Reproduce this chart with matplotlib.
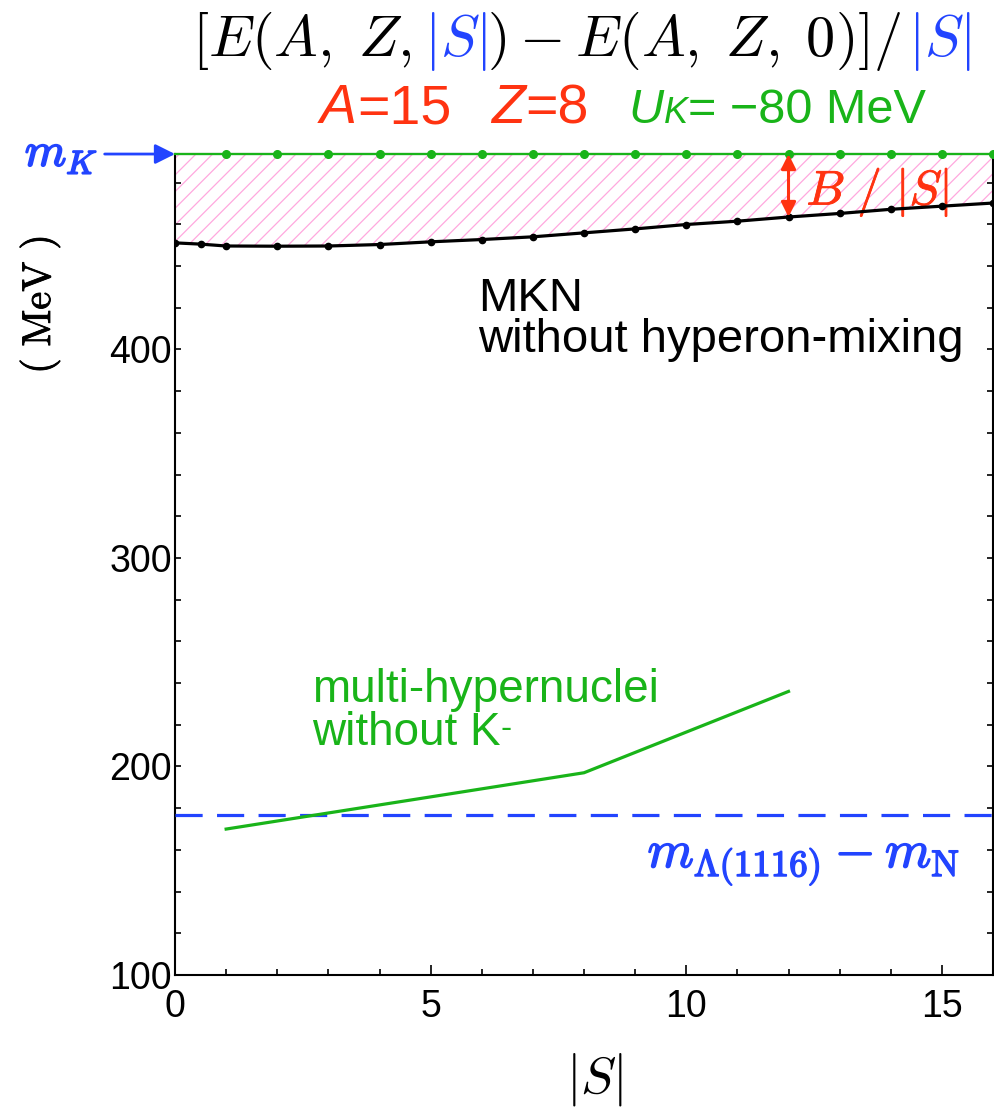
import matplotlib
matplotlib.use("Agg")
import matplotlib.pyplot as plt
import matplotlib.patheffects as pe
from matplotlib import transforms
from matplotlib.ticker import MultipleLocator

plt.rcParams["mathtext.fontset"] = "cm"
plt.rcParams["font.family"] = ["Liberation Sans", "DejaVu Sans"]
plt.rcParams["hatch.linewidth"] = 0.9

# MKN result without hyperon mixing: [E(A,Z,|S|) - E(A,Z,0)]/|S| in MeV
S_mkn = [0, 0.5, 1, 2, 3, 4, 5, 6, 7, 8, 9, 10, 11, 12, 13, 14, 15, 16]
E_mkn = [451.1, 450.5, 449.6, 449.5, 449.6, 450.3, 451.6, 452.7, 454.0,
         455.9, 457.8, 459.9, 461.5, 463.5, 465.2, 467.2, 468.7, 470.2]

# multi-hypernuclei without K-
S_hyp = [1, 8, 12]
E_hyp = [170, 197, 236]

# reference levels
m_K = 493.7
S_mK = [1, 2, 3, 4, 5, 6, 7, 8, 9, 10, 11, 12, 13, 14, 15, 16]
mLam_minus_mN = 176.8
S_arrow = 12
E_arrow = 463.5

RED = "#ff3311"
GREEN = "#19b419"
BLUE = "#2244ff"
PINK = "#ffa8de"


def bold(color, w=1.1):
    # thicken thin math glyphs a little
    return [pe.withStroke(linewidth=w, foreground=color)]


fig = plt.figure(figsize=(9.95, 11.17), dpi=100)
ax = fig.add_axes([0.1759, 0.1271, 0.8221, 0.7350])

# hatched band between the curve and m_K
ax.fill_between(S_mkn, E_mkn, m_K, facecolor="none", edgecolor=PINK,
                hatch="//", linewidth=0)

ax.plot(S_mkn, E_mkn, color="black", lw=2.3, marker="o", ms=4.5, zorder=4)
ax.plot(S_hyp, E_hyp, color=GREEN, lw=2.3, zorder=4)
ax.axhline(mLam_minus_mN, color=BLUE, lw=2.3, dashes=(8.5, 4.5), zorder=3)
ax.plot([0] + S_mK, [m_K] * (len(S_mK) + 1), color=GREEN, lw=1.6,
        clip_on=False, zorder=5)
ax.plot(S_mK, [m_K] * len(S_mK), ls="none", marker="o", ms=5.5,
        color=GREEN, clip_on=False, zorder=6)

# B/|S| arrow
ax.annotate("", xy=(S_arrow, E_arrow), xytext=(S_arrow, m_K),
            arrowprops=dict(arrowstyle="<|-|>", color=RED, lw=2.2,
                            mutation_scale=22, shrinkA=0, shrinkB=0),
            zorder=7)
ax.text(12.35, 469.5, r"$B\ /\ |S|$", color=RED, fontsize=35,
        va="baseline", path_effects=bold(RED, 0.6))

ax.set_xlim(0, 16)
ax.set_ylim(100, m_K)
ax.xaxis.set_major_locator(MultipleLocator(5))
ax.xaxis.set_minor_locator(MultipleLocator(1))
ax.yaxis.set_major_locator(MultipleLocator(100))
ax.yaxis.set_minor_locator(MultipleLocator(20))
ax.tick_params(which="both", direction="in", top=False, right=True,
               labelsize=27, width=1.2)
ax.tick_params(which="major", length=7)
ax.tick_params(which="minor", length=4.5)
ax.tick_params(axis="y", which="both", length=4.5, pad=2)
ax.tick_params(axis="x", pad=10)
for sp in ax.spines.values():
    sp.set_linewidth(1.5)

# two-line label, anchored on the baseline of its last line
ax.text(5.93, 398.7, "MKN\nwithout hyperon-mixing", fontsize=34,
        va="baseline", linespacing=0.93)
ax.text(2.68, 230.7, "multi-hypernuclei", fontsize=33, va="baseline",
        color=GREEN)
t_k = ax.text(2.68, 210.5, "without K", fontsize=33, va="baseline",
              color=GREEN)
ax.annotate("-", xy=(1.0, 0.93), xycoords=t_k, fontsize=24, color=GREEN,
            ha="left", va="top")
ax.text(15.35, 151.6, r"$m_{\Lambda(1116)}-m_{\rm N}$", fontsize=38,
        color=BLUE, ha="right", va="baseline", path_effects=bold(BLUE))

# m_K marker on the left of the frame
ax.annotate("", xy=(0, m_K), xytext=(-0.086, m_K),
            xycoords=("axes fraction", "data"),
            textcoords=("axes fraction", "data"),
            arrowprops=dict(arrowstyle="-|>", color=BLUE, lw=2,
                            mutation_scale=30, shrinkA=0, shrinkB=0))
fig.text(0.025, 1 - 166 / 1117, r"$m_K$", color=BLUE, fontsize=34,
         va="baseline", path_effects=bold(BLUE, 1.3))

fig.text(40 / 995, 1 - 305 / 1117, r"$(\ \mathrm{MeV}\ )$", fontsize=29,
         rotation=90, ha="center", va="center",
         path_effects=bold("black", 0.6))
fig.text(595 / 995, 1 - 1080 / 1117, r"$|S|$", fontsize=38,
         ha="center", va="center")


def text_row(x, y, pieces):
    """Draw text pieces one after another on a common baseline."""
    renderer = fig.canvas.get_renderer()
    trans = fig.transFigure
    first = True
    for s, props in pieces:
        gap = props.pop("gap", 0)
        if not first and gap:
            trans = transforms.offset_copy(trans, fig=fig, x=gap, units="dots")
        t = fig.text(x, y, s, transform=trans, va="baseline", **props)
        t.draw(renderer)
        ex = t.get_window_extent(renderer)
        trans = transforms.offset_copy(t.get_transform(), fig=fig,
                                       x=ex.width, units="dots")
        first = False


text_row(192 / 995, 1 - 56 / 1117, [
    (r"$[E(A,\;Z,$", dict(fontsize=42, color="black")),
    (r"$|S|$", dict(fontsize=42, color=BLUE, gap=12)),
    (r"$)-E(A,\;Z,\;0)]/$", dict(fontsize=42, color="black")),
    (r"$|S|$", dict(fontsize=42, color=BLUE, gap=6)),
])
text_row(320 / 995, 1 - 123 / 1117, [
    ("A", dict(fontsize=40, color=RED, style="italic")),
    ("=15", dict(fontsize=40, color=RED)),
    ("Z", dict(fontsize=40, color=RED, style="italic", gap=40)),
    ("=8", dict(fontsize=40, color=RED)),
    ("U", dict(fontsize=35, color=GREEN, style="italic", gap=40)),
    ("K", dict(fontsize=26, color=GREEN, style="italic")),
    ("= \u221280 MeV", dict(fontsize=35, color=GREEN)),
])

fig.savefig("out.png", dpi=100)
